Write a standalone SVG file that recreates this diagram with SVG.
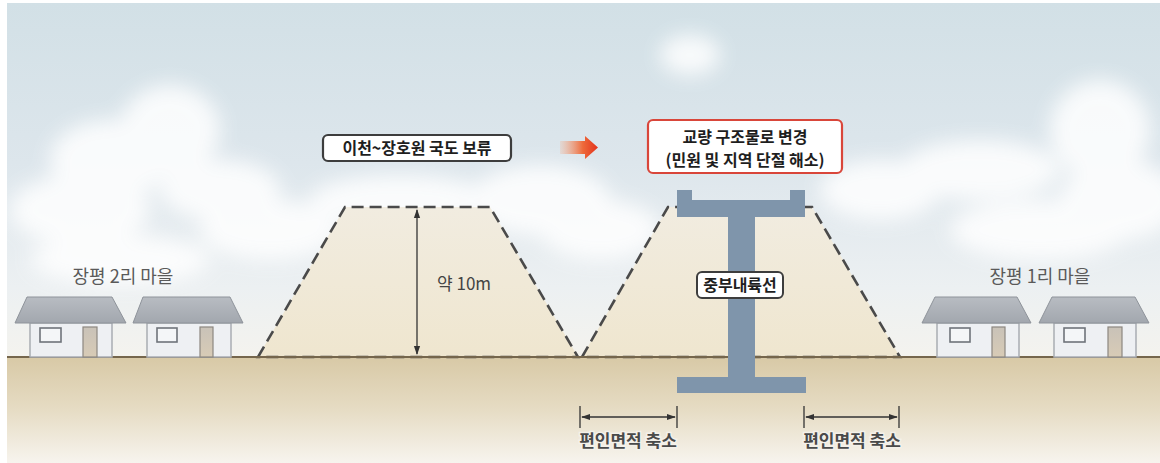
<svg xmlns="http://www.w3.org/2000/svg" width="1160" height="463" viewBox="0 0 1160 463">
  <defs>
    <linearGradient id="sky" x1="0" y1="0" x2="0" y2="1">
      <stop offset="0" stop-color="#d2e0e6"/>
      <stop offset="0.45" stop-color="#dde6ec"/>
      <stop offset="0.8" stop-color="#ecf0f2"/>
      <stop offset="1" stop-color="#f4f3ee"/>
    </linearGradient>
    <linearGradient id="ground" x1="0" y1="0" x2="0" y2="1">
      <stop offset="0" stop-color="#d8c9a6"/>
      <stop offset="0.5" stop-color="#e6dcc4"/>
      <stop offset="1" stop-color="#f7f4ee"/>
    </linearGradient>
    <linearGradient id="bank" x1="0" y1="0" x2="0" y2="1">
      <stop offset="0" stop-color="#f1ece0"/>
      <stop offset="1" stop-color="#efe6cf"/>
    </linearGradient>
    <linearGradient id="arrowFill" x1="0" y1="0" x2="1" y2="0">
      <stop offset="0" stop-color="#f6a47c" stop-opacity="0.2"/>
      <stop offset="0.6" stop-color="#ee6a3a"/>
      <stop offset="1" stop-color="#e3321c"/>
    </linearGradient>
    <linearGradient id="roof" x1="0" y1="0" x2="0" y2="1">
      <stop offset="0" stop-color="#b8bcc2"/>
      <stop offset="1" stop-color="#a2a7ae"/>
    </linearGradient>
    <linearGradient id="door" x1="0" y1="0" x2="0" y2="1">
      <stop offset="0" stop-color="#c9c2b8"/>
      <stop offset="1" stop-color="#d8cbb6"/>
    </linearGradient>
    <filter id="soft" x="-30%" y="-30%" width="160%" height="160%">
      <feGaussianBlur stdDeviation="10"/>
    </filter>
    <marker id="tip" viewBox="0 0 10 10" refX="9" refY="5" markerWidth="7" markerHeight="7" orient="auto-start-reverse">
      <path d="M0,1.5 L10,5 L0,8.5 Z" fill="#333"/>
    </marker>
    <style>
      .lbl { font-family: "Noto Sans CJK KR", "Liberation Sans", sans-serif; }
      .village { font-size: 18px; fill: #5a5a5a; text-anchor: middle; }
      .boxtxt { font-size: 16px; font-weight: bold; fill: #1e1e1e; text-anchor: middle; }
      .dim { font-size: 17px; font-weight: bold; fill: #4a4a4a; text-anchor: middle; stroke: #f4f1ea; stroke-width: 3px; paint-order: stroke; }
      .dash { fill: url(#bank); stroke: #4a4a4a; stroke-width: 2.6; stroke-dasharray: 12 6; }
      .wall { fill: #eef0f3; stroke: #a9adb3; stroke-width: 1.5; }
      .win { fill: #f4f6f8; stroke: #6f747a; stroke-width: 1.6; }
      .dr { fill: url(#door); stroke: #8d8780; stroke-width: 1.2; }
      .roofs { fill: url(#roof); stroke: #8e939a; stroke-width: 1; }
      .pier { fill: #7f95ab; }
      .dimline { stroke: #333; stroke-width: 1.3; fill: none; }
    </style>
  </defs>

  <!-- sky and clouds -->
  <rect x="7" y="3" width="1153" height="355" fill="url(#sky)"/>
  <g id="clouds" fill="#ffffff" filter="url(#soft)" opacity="0.85">
    <ellipse cx="690" cy="55" rx="30" ry="20"/>
    <ellipse cx="110" cy="160" rx="60" ry="40"/>
    <ellipse cx="170" cy="130" rx="50" ry="45"/>
    <ellipse cx="80" cy="210" rx="70" ry="35"/>
    <ellipse cx="220" cy="190" rx="60" ry="30"/>
    <ellipse cx="270" cy="230" rx="70" ry="30"/>
    <ellipse cx="400" cy="200" rx="90" ry="25"/>
    <ellipse cx="540" cy="200" rx="70" ry="35"/>
    <ellipse cx="600" cy="230" rx="60" ry="30"/>
    <ellipse cx="880" cy="190" rx="60" ry="30"/>
    <ellipse cx="980" cy="170" rx="80" ry="30"/>
    <ellipse cx="1100" cy="130" rx="50" ry="50"/>
    <ellipse cx="1120" cy="200" rx="60" ry="40"/>
    <ellipse cx="1040" cy="230" rx="90" ry="30"/>
    <ellipse cx="120" cy="260" rx="90" ry="25"/>
  </g>

  <!-- ground -->
  <rect x="7" y="357" width="1153" height="106" fill="url(#ground)"/>

  <!-- embankments -->
  <g id="embankment-left">
    <path class="dash" d="M258,357 L345,207 L490,207 L578,357 Z"/>
  </g>
  <g id="embankment-right">
    <path class="dash" d="M582,357 L668,207 L812,207 L900,357 Z"/>
  </g>
  <line x1="7" y1="357" x2="1160" y2="357" stroke="#75664c" stroke-width="2"/>

  <!-- bridge pier -->
  <g id="bridge">
    <path class="pier" d="M677,190 H692 V200 H790 V190 H805 V217 H755 V377 H806 V393 H677 V377 H728 V217 H677 Z"/>
  </g>

  <!-- houses, village 2 -->
  <g id="village-2">
    <rect class="wall" x="30" y="323" width="82" height="34"/>
    <polygon class="roofs" points="27,297 112,297 126,323 15,323"/>
    <rect class="win" x="40" y="328" width="21" height="14"/>
    <rect class="dr" x="83" y="327" width="14" height="30"/>
    <rect class="wall" x="147" y="323" width="84" height="34"/>
    <polygon class="roofs" points="143,297 230,297 243,323 133,323"/>
    <rect class="win" x="157" y="328" width="20" height="14"/>
    <rect class="dr" x="200" y="327" width="13" height="30"/>
    <text class="lbl village" x="123" y="283">장평 2리 마을</text>
  </g>

  <!-- houses, village 1 -->
  <g id="village-1">
    <rect class="wall" x="937" y="323" width="82" height="34"/>
    <polygon class="roofs" points="935,297 1017,297 1031,323 922,323"/>
    <rect class="win" x="950" y="328" width="20" height="14"/>
    <rect class="dr" x="992" y="327" width="13" height="30"/>
    <rect class="wall" x="1054" y="323" width="82" height="34"/>
    <polygon class="roofs" points="1052,297 1135,297 1149,323 1039,323"/>
    <rect class="win" x="1064" y="328" width="21" height="14"/>
    <rect class="dr" x="1108" y="327" width="14" height="30"/>
    <text class="lbl village" x="1040" y="283">장평 1리 마을</text>
  </g>

  <!-- connectors and dimensions -->
  <g id="connectors">
    <line class="dimline" x1="417" y1="210" x2="417" y2="354" marker-start="url(#tip)" marker-end="url(#tip)"/>
    <line class="dimline" x1="580" y1="406" x2="580" y2="428"/>
    <line class="dimline" x1="677" y1="406" x2="677" y2="428"/>
    <line class="dimline" x1="582" y1="417" x2="675" y2="417" marker-start="url(#tip)" marker-end="url(#tip)"/>
    <line class="dimline" x1="804" y1="406" x2="804" y2="428"/>
    <line class="dimline" x1="899" y1="406" x2="899" y2="428"/>
    <line class="dimline" x1="806" y1="417" x2="897" y2="417" marker-start="url(#tip)" marker-end="url(#tip)"/>
    <path d="M560,141 H585 V136 L598,147.5 L585,159 V154 H560 Z" fill="url(#arrowFill)"/>
  </g>

  <text class="lbl" x="437" y="290" font-size="17" fill="#444">약 10m</text>

  <g id="label-national-road">
    <rect x="323" y="135" width="188" height="26" rx="5" fill="#ffffff" stroke="#3d3d3d" stroke-width="2.2"/>
    <text class="lbl boxtxt" x="417" y="154" font-size="17">이천~장호원 국도 보류</text>
  </g>

  <g id="label-bridge">
    <rect x="648" y="120" width="194" height="53" rx="5" fill="#ffffff" stroke="#d9463a" stroke-width="2.2"/>
    <text class="lbl boxtxt" x="745" y="143">교량 구조물로 변경</text>
    <text class="lbl boxtxt" x="745" y="166">(민원 및 지역 단절 해소)</text>
  </g>

  <g id="label-line">
    <rect x="697" y="272" width="86" height="26" rx="5" fill="#ffffff" stroke="#3d3d3d" stroke-width="2"/>
    <text class="lbl boxtxt" x="740" y="291">중부내륙선</text>
  </g>

  <g id="labels-area">
    <text class="lbl dim" x="628" y="447">편인면적 축소</text>
    <text class="lbl dim" x="852" y="447">편인면적 축소</text>
  </g>
</svg>
